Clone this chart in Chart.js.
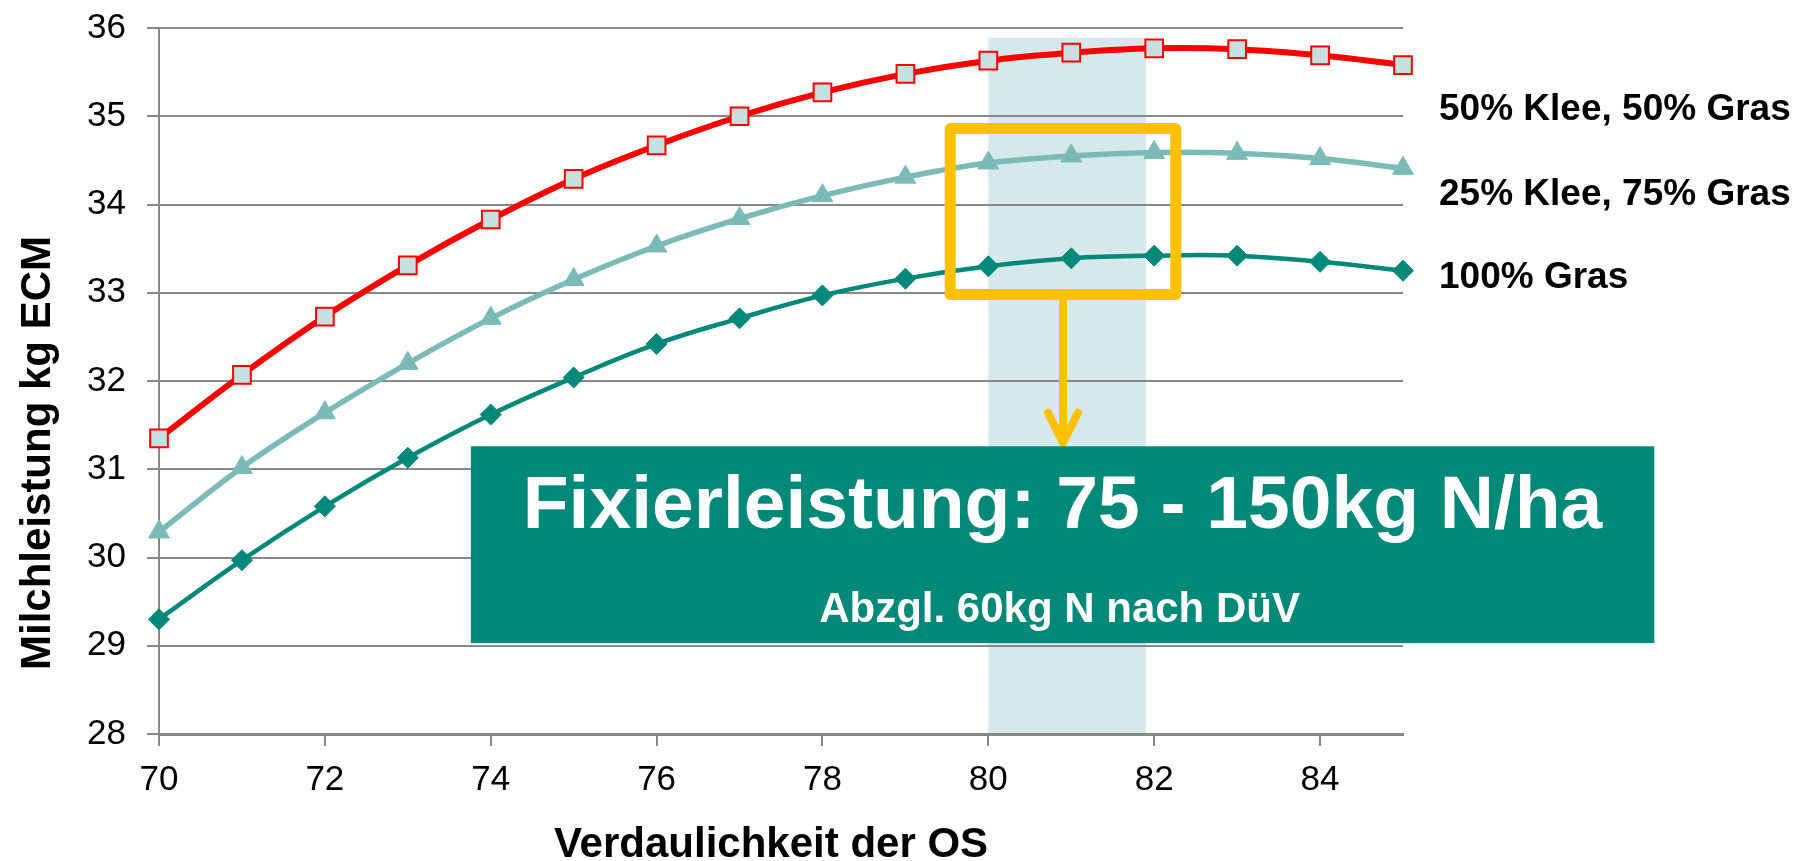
<!DOCTYPE html>
<html lang="de">
<head>
<meta charset="utf-8">
<title>Milchleistung nach Verdaulichkeit der OS</title>
<script src="https://cdn.jsdelivr.net/npm/chart.js@4.4.1/dist/chart.umd.min.js"></script>
<style>
  html, body { margin: 0; padding: 0; background: #ffffff; }
  #wrap { width: 1811px; height: 861px; }
</style>
</head>
<body>
<div id="wrap"><canvas id="chart" width="1811" height="861"></canvas></div>
<script>
// Verdaulichkeit der organischen Substanz (%)
const digestibility = [70, 71, 72, 73, 74, 75, 76, 77, 78, 79, 80, 81, 82, 83, 84, 85];
const xTickValues = [70, 72, 74, 76, 78, 80, 82, 84];
const yTickValues = [28, 29, 30, 31, 32, 33, 34, 35, 36];

const seriesNames = ['50% Klee, 50% Gras', '25% Klee, 75% Gras', '100% Gras'];

// Milchleistung in kg ECM
const klee50 = [31.35, 32.07, 32.73, 33.31, 33.83, 34.29, 34.67, 35.00, 35.27, 35.48, 35.63, 35.72, 35.77, 35.76, 35.69, 35.58];
const klee25 = [30.29, 31.02, 31.64, 32.20, 32.71, 33.15, 33.53, 33.84, 34.10, 34.31, 34.47, 34.55, 34.59, 34.58, 34.52, 34.41];
const gras100 = [29.30, 29.97, 30.58, 31.13, 31.62, 32.04, 32.42, 32.71, 32.97, 33.16, 33.30, 33.39, 33.42, 33.42, 33.35, 33.25];

// optimaler Bereich der Verdaulichkeit
const optimumRange = [80, 81.9];
const optimumTop = 35.89;

const calloutTitle = 'Fixierleistung: 75 - 150kg N/ha';
const calloutNote = 'Abzgl. 60kg N nach DüV';
const xTitle = 'Verdaulichkeit der OS';
const yTitle = 'Milchleistung kg ECM';

const FONT = '"Liberation Sans", Arial, Helvetica, sans-serif';
const GRID = '#888888';
const TEAL = '#008878';
const TEAL_LIGHT = '#7BBBB7';
const GOLD = '#FFC000';

const toPoints = vals => digestibility.map((x, i) => ({ x: x, y: vals[i] }));

// Hintergrundband, Markierungsrahmen, Hinweisbox und Beschriftungen
const overlay = {
  id: 'overlay',
  beforeDraw(chart) {
    const { ctx, scales: { x, y } } = chart;
    const l = x.getPixelForValue(optimumRange[0]);
    const r = x.getPixelForValue(optimumRange[1]);
    const t = y.getPixelForValue(optimumTop);
    const b = y.getPixelForValue(y.min);
    ctx.save();
    ctx.fillStyle = '#D5E8EA';
    ctx.fillRect(l, t, r - l, b - t);
    ctx.restore();
  },
  afterDraw(chart) {
    const { ctx, scales: { x, y } } = chart;
    ctx.save();

    // gelber Rahmen um das Maximum
    const bx0 = x.getPixelForValue(79.54), bx1 = x.getPixelForValue(82.26);
    const by0 = y.getPixelForValue(34.86), by1 = y.getPixelForValue(32.98);
    ctx.strokeStyle = GOLD;
    ctx.lineWidth = 11;
    ctx.lineJoin = 'round';
    ctx.strokeRect(bx0, by0, bx1 - bx0, by1 - by0);

    // Pfeil zur Hinweisbox
    const ax = (bx0 + bx1) / 2;
    const tip = y.getPixelForValue(31.30);
    ctx.lineWidth = 8;
    ctx.lineCap = 'round';
    ctx.beginPath();
    ctx.moveTo(ax, by1);
    ctx.lineTo(ax, tip);
    ctx.moveTo(ax - 15, tip - 30);
    ctx.lineTo(ax, tip);
    ctx.lineTo(ax + 15, tip - 30);
    ctx.stroke();

    // Hinweisbox
    const cx0 = x.getPixelForValue(73.76), cx1 = x.getPixelForValue(88.03);
    const cy0 = y.getPixelForValue(31.26), cy1 = y.getPixelForValue(29.03);
    ctx.fillStyle = TEAL;
    ctx.fillRect(cx0, cy0, cx1 - cx0, cy1 - cy0);
    ctx.fillStyle = '#ffffff';
    ctx.textAlign = 'center';
    ctx.textBaseline = 'alphabetic';
    ctx.font = 'bold 75px ' + FONT;
    ctx.fillText(calloutTitle, (cx0 + cx1) / 2, cy0 + 82);
    ctx.font = 'bold 42px ' + FONT;
    ctx.fillText(calloutNote, (cx0 + cx1) / 2 - 3, cy0 + 176);

    // Reihenbeschriftungen rechts neben den Kurven
    ctx.fillStyle = '#000000';
    ctx.textAlign = 'left';
    ctx.font = 'bold 37px ' + FONT;
    const labelAt = [34.96, 34.0, 33.05];
    chart.data.datasets.forEach((ds, i) => {
      ctx.fillText(ds.label, chart.chartArea.right + 36, y.getPixelForValue(labelAt[i]));
    });

    // Achsentitel
    ctx.font = 'bold 42px ' + FONT;
    ctx.textAlign = 'center';
    ctx.fillText(xTitle, (chart.chartArea.left + chart.chartArea.right) / 2 - 10, 857);
    ctx.translate(50, (chart.chartArea.top + chart.chartArea.bottom) / 2 + 72);
    ctx.rotate(-Math.PI / 2);
    ctx.fillText(yTitle, 0, 0);

    ctx.restore();
  }
};

new Chart(document.getElementById('chart'), {
  type: 'line',
  data: {
    datasets: [
      {
        label: seriesNames[0],
        data: toPoints(klee50),
        borderColor: '#FF0000',
        borderWidth: 6,
        pointStyle: 'rect',
        pointRadius: 12.5,
        pointBackgroundColor: '#C5E0DF',
        pointBorderColor: '#FF0000',
        pointBorderWidth: 2,
        tension: 0.4,
        clip: false
      },
      {
        label: seriesNames[1],
        data: toPoints(klee25),
        borderColor: TEAL_LIGHT,
        borderWidth: 5.5,
        pointStyle: 'triangle',
        pointRadius: 12,
        pointBackgroundColor: TEAL_LIGHT,
        pointBorderColor: TEAL_LIGHT,
        pointBorderWidth: 1,
        tension: 0.4,
        clip: false
      },
      {
        label: seriesNames[2],
        data: toPoints(gras100),
        borderColor: TEAL,
        borderWidth: 4.5,
        pointStyle: 'rectRot',
        pointRadius: 10.5,
        pointBackgroundColor: TEAL,
        pointBorderColor: TEAL,
        pointBorderWidth: 1,
        tension: 0.4,
        clip: false
      }
    ]
  },
  options: {
    responsive: false,
    animation: false,
    events: [],
    layout: { padding: { left: 0, right: 408, top: 28, bottom: 0 } },
    plugins: { legend: { display: false }, tooltip: { enabled: false } },
    scales: {
      x: {
        type: 'linear',
        min: 70,
        max: 85,
        afterBuildTicks: s => { s.ticks = xTickValues.map(v => ({ value: v })); },
        afterFit: s => { s.height = 127; s.paddingLeft = 0; s.paddingRight = 0; },
        grid: { drawOnChartArea: false, drawTicks: true, tickLength: 12, color: GRID, lineWidth: 2 },
        border: { color: GRID, width: 3 },
        ticks: { font: { family: FONT, size: 35 }, color: '#000000', padding: 13, maxRotation: 0, autoSkip: false }
      },
      y: {
        min: 28,
        max: 36,
        afterBuildTicks: s => { s.ticks = yTickValues.map(v => ({ value: v })); },
        afterFit: s => { s.width = 159; s.paddingTop = 0; s.paddingBottom = 0; },
        grid: { color: GRID, lineWidth: 2, tickLength: 12 },
        border: { color: GRID, width: 2 },
        ticks: { font: { family: FONT, size: 35 }, color: '#000000', padding: 21 }
      }
    }
  },
  plugins: [overlay]
});
</script>
</body>
</html>
